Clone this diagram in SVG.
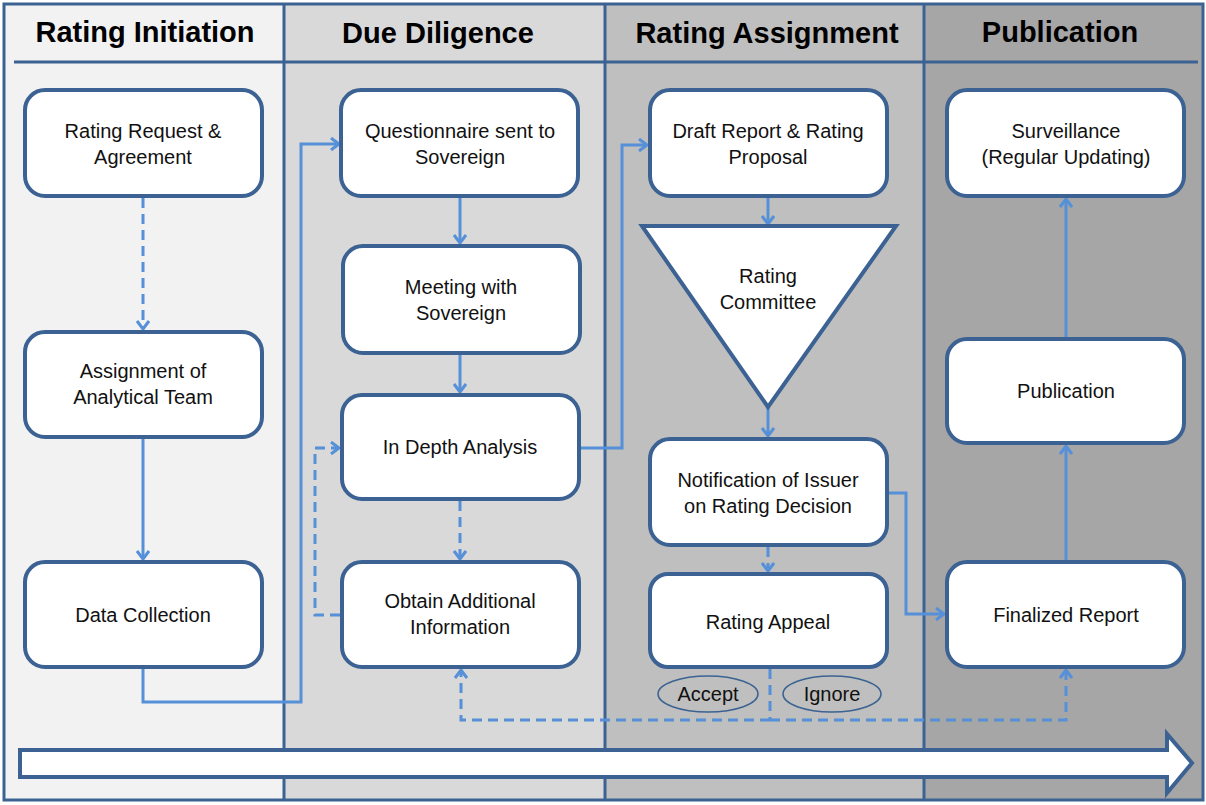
<svg xmlns="http://www.w3.org/2000/svg" width="1206" height="805" viewBox="0 0 1206 805">
<defs>
<style>
.lane{stroke:none}
.div{stroke:#3B6292;stroke-width:3;fill:none}
.title{font-family:"Liberation Sans",Arial,sans-serif;font-weight:bold;font-size:29px;fill:#000;text-anchor:middle}
.box{fill:#fff;stroke:#3B6292;stroke-width:4}
.t{font-family:"Liberation Sans",Arial,sans-serif;font-size:20px;fill:#111;text-anchor:middle}
.c{fill:none;stroke:#5590D8;stroke-width:3}
.d{stroke-dasharray:10,6}
.ell{fill:none;stroke:#3B6292;stroke-width:1.5}
</style>
<marker id="ah" markerWidth="14" markerHeight="14" refX="11" refY="7" orient="auto" markerUnits="userSpaceOnUse">
<path d="M3,1 L11,7 L3,13" fill="none" stroke="#5590D8" stroke-width="3"/>
</marker>
</defs>
<g id="lanes">
<rect class="lane" x="4" y="4" width="280" height="796" fill="#F2F2F2"/>
<rect class="lane" x="284" y="4" width="321" height="796" fill="#D9D9D9"/>
<rect class="lane" x="605" y="4" width="319" height="796" fill="#BFBFBF"/>
<rect class="lane" x="924" y="4" width="279" height="796" fill="#A6A6A6"/>
<rect class="div" x="4" y="4" width="1199" height="796"/>
<line class="div" x1="284" y1="4" x2="284" y2="800"/>
<line class="div" x1="605" y1="4" x2="605" y2="800"/>
<line class="div" x1="924" y1="4" x2="924" y2="800"/>
<line class="div" x1="14" y1="62" x2="1198" y2="62" stroke-width="4"/>
<text class="title" x="145" y="42">Rating Initiation</text>
<text class="title" x="438" y="43">Due Diligence</text>
<text class="title" x="767" y="43">Rating Assignment</text>
<text class="title" x="1060" y="42">Publication</text>
</g>
<g id="timeline">
<path d="M20,750 L1167,750 L1167,734 L1192,763 L1167,793 L1167,777 L20,777 Z" fill="#fff" stroke="#3B6292" stroke-width="4"/>
</g>
<g id="connectors">
<line class="c d" x1="143" y1="198" x2="143" y2="329" marker-end="url(#ah)"/>
<line class="c" x1="143" y1="439" x2="143" y2="559" marker-end="url(#ah)"/>
<polyline class="c" points="143,669 143,702 301,702 301,144 339,144" marker-end="url(#ah)"/>
<line class="c" x1="460" y1="198" x2="460" y2="243" marker-end="url(#ah)"/>
<line class="c" x1="460" y1="355" x2="460" y2="392" marker-end="url(#ah)"/>
<line class="c d" x1="460" y1="501" x2="460" y2="559" marker-end="url(#ah)"/>
<polyline class="c d" points="340,615 315,615 315,448 339,448" marker-end="url(#ah)"/>
<polyline class="c" points="581,448 622,448 622,145 647,145" marker-end="url(#ah)"/>
<line class="c" x1="768" y1="198" x2="768" y2="224" marker-end="url(#ah)"/>
<line class="c" x1="768" y1="406" x2="768" y2="436" marker-end="url(#ah)"/>
<line class="c d" x1="768" y1="547" x2="768" y2="571" marker-end="url(#ah)"/>
<polyline class="c" points="889,493 906,493 906,614 944,614" marker-end="url(#ah)"/>
<line class="c d" x1="770" y1="669" x2="770" y2="720"/>
<polyline class="c d" points="770,720 461,720 461,670" marker-end="url(#ah)"/>
<polyline class="c d" points="770,720 1066,720 1066,670" marker-end="url(#ah)"/>
<line class="c" x1="1066" y1="560" x2="1066" y2="446" marker-end="url(#ah)"/>
<line class="c" x1="1066" y1="337" x2="1066" y2="199" marker-end="url(#ah)"/>
</g>
<g id="n1"><rect class="box" x="25" y="90" width="237" height="106" rx="20"/><text class="t" x="143" y="138">Rating Request &amp;</text><text class="t" x="143" y="164">Agreement</text></g>
<g id="n2"><rect class="box" x="25" y="332" width="237" height="105" rx="20"/><text class="t" x="143" y="378">Assignment of</text><text class="t" x="143" y="404">Analytical Team</text></g>
<g id="n3"><rect class="box" x="25" y="562" width="237" height="105" rx="20"/><text class="t" x="143" y="622">Data Collection</text></g>
<g id="n4"><rect class="box" x="341" y="90" width="237" height="106" rx="20"/><text class="t" x="460" y="138">Questionnaire sent to</text><text class="t" x="460" y="164">Sovereign</text></g>
<g id="n5"><rect class="box" x="343" y="246" width="237" height="107" rx="20"/><text class="t" x="461" y="294">Meeting with</text><text class="t" x="461" y="320">Sovereign</text></g>
<g id="n6"><rect class="box" x="342" y="395" width="237" height="104" rx="20"/><text class="t" x="460" y="454">In Depth Analysis</text></g>
<g id="n7"><rect class="box" x="342" y="562" width="237" height="105" rx="20"/><text class="t" x="460" y="608">Obtain Additional</text><text class="t" x="460" y="634">Information</text></g>
<g id="n8"><rect class="box" x="650" y="90" width="237" height="106" rx="20"/><text class="t" x="768" y="138">Draft Report &amp; Rating</text><text class="t" x="768" y="164">Proposal</text></g>
<g id="n9"><polygon class="box" points="642,226 896,226 768,407" stroke-linejoin="miter"/><text class="t" x="768" y="283">Rating</text><text class="t" x="768" y="309">Committee</text></g>
<g id="n10"><rect class="box" x="650" y="439" width="237" height="106" rx="20"/><text class="t" x="768" y="487">Notification of Issuer</text><text class="t" x="768" y="513">on Rating Decision</text></g>
<g id="n11"><rect class="box" x="650" y="574" width="237" height="93" rx="18"/><text class="t" x="768" y="629">Rating Appeal</text></g>
<g id="e1"><ellipse class="ell" cx="708" cy="694" rx="50" ry="18"/><text class="t" x="708" y="701">Accept</text></g>
<g id="e2"><ellipse class="ell" cx="832" cy="694" rx="49" ry="18"/><text class="t" x="832" y="701">Ignore</text></g>
<g id="n12"><rect class="box" x="947" y="90" width="237" height="106" rx="20"/><text class="t" x="1066" y="138">Surveillance</text><text class="t" x="1066" y="164">(Regular Updating)</text></g>
<g id="n13"><rect class="box" x="947" y="339" width="237" height="104" rx="20"/><text class="t" x="1066" y="398">Publication</text></g>
<g id="n14"><rect class="box" x="947" y="562" width="237" height="105" rx="20"/><text class="t" x="1066" y="622">Finalized Report</text></g>
</svg>
